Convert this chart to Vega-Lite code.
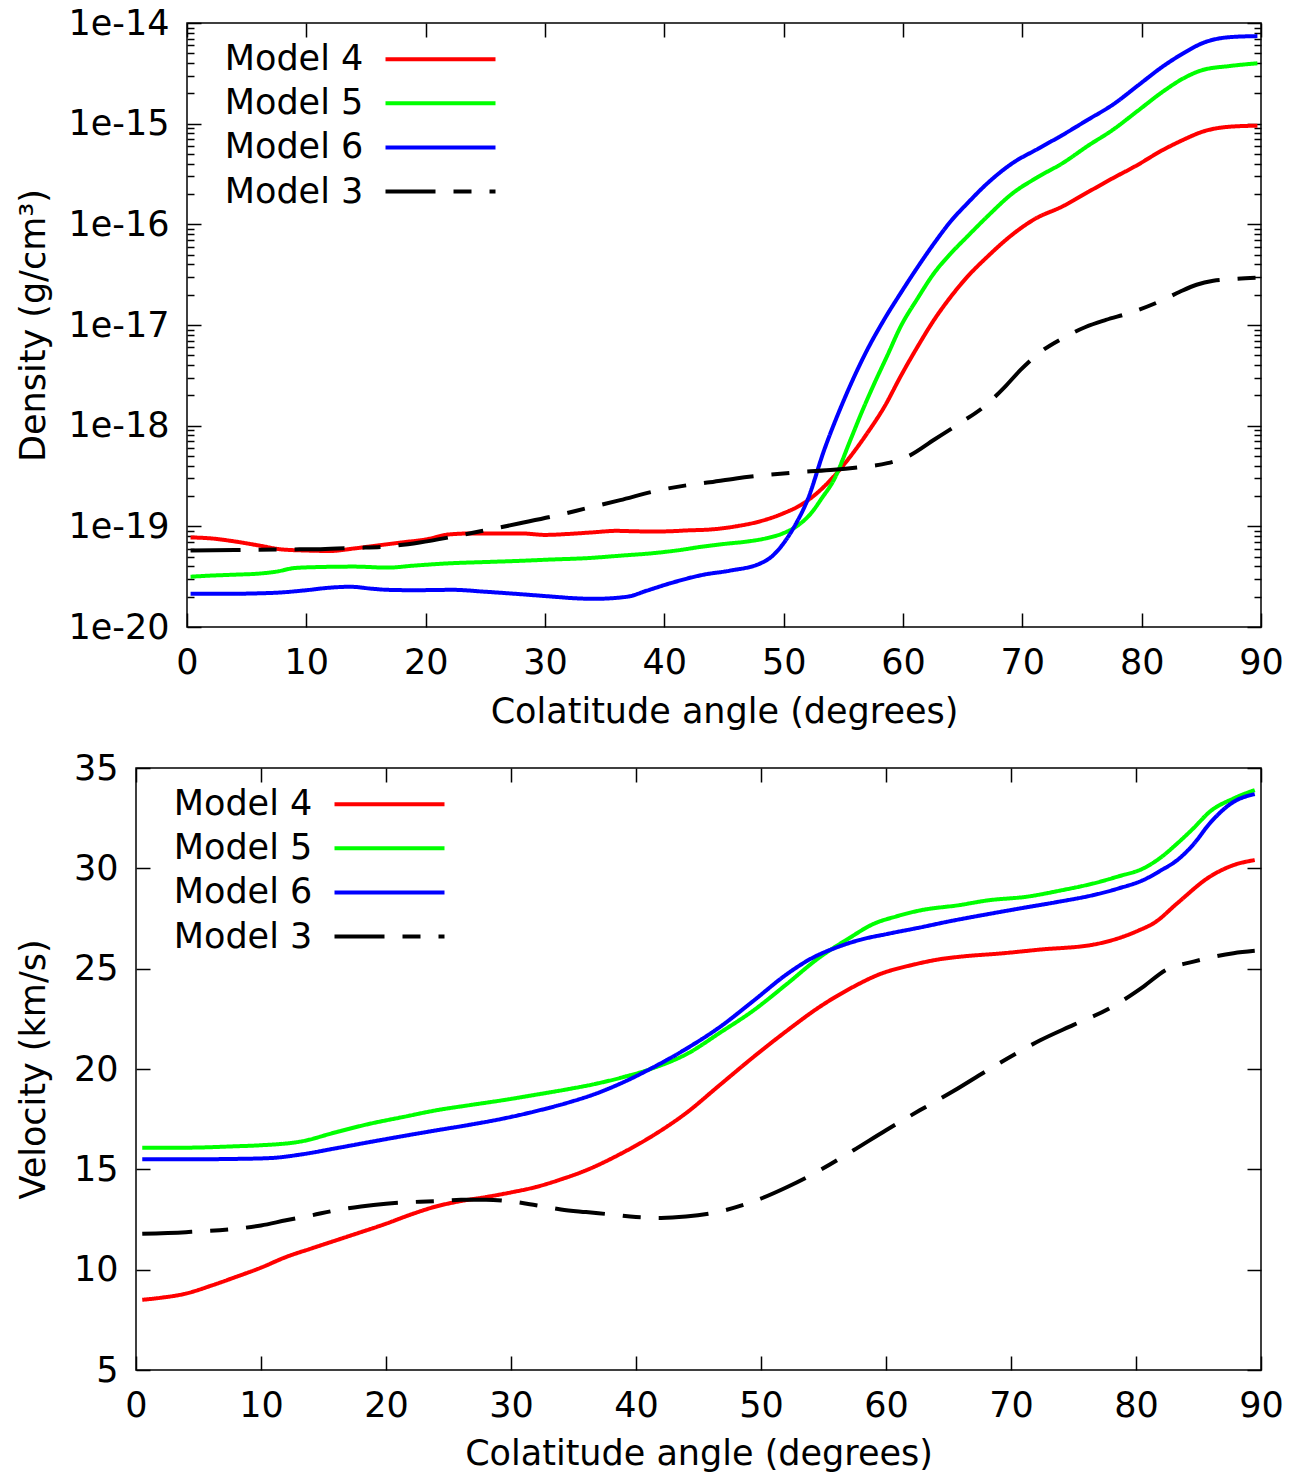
{
  "$schema": "https://vega.github.io/schema/vega-lite/v6.json",
  "padding": {"left": 14, "top": 5, "right": 5, "bottom": 5},
  "background": "white",
  "config": {
    "font": "DejaVu Sans",
    "view": {"stroke": "#000", "strokeWidth": 1.5},
    "axis": {"labelFont": "DejaVu Sans", "labelFontSize": 35, "labelColor": "#000", "titleFont": "DejaVu Sans", "titleFontSize": 35, "titleFontWeight": "normal", "titleColor": "#000", "domain": false, "grid": false, "tickColor": "#000", "tickWidth": 1.5, "labelFlush": false, "labelOverlap": false, "labelBound": false},
    "legend": {"labelFont": "DejaVu Sans", "labelFontSize": 35, "labelColor": "#000"}
  },
  "datasets": {
    "density": [
      {"model": "Model 4", "angle": 0.3, "density": 7.76e-20},
      {"model": "Model 4", "angle": 2, "density": 7.59e-20},
      {"model": "Model 4", "angle": 4, "density": 7.08e-20},
      {"model": "Model 4", "angle": 6, "density": 6.46e-20},
      {"model": "Model 4", "angle": 8, "density": 5.89e-20},
      {"model": "Model 4", "angle": 10, "density": 5.75e-20},
      {"model": "Model 4", "angle": 12, "density": 5.69e-20},
      {"model": "Model 4", "angle": 14, "density": 6.03e-20},
      {"model": "Model 4", "angle": 16, "density": 6.46e-20},
      {"model": "Model 4", "angle": 18, "density": 6.92e-20},
      {"model": "Model 4", "angle": 20, "density": 7.41e-20},
      {"model": "Model 4", "angle": 22, "density": 8.32e-20},
      {"model": "Model 4", "angle": 24, "density": 8.51e-20},
      {"model": "Model 4", "angle": 26, "density": 8.51e-20},
      {"model": "Model 4", "angle": 28, "density": 8.51e-20},
      {"model": "Model 4", "angle": 30, "density": 8.22e-20},
      {"model": "Model 4", "angle": 32, "density": 8.41e-20},
      {"model": "Model 4", "angle": 34, "density": 8.71e-20},
      {"model": "Model 4", "angle": 36, "density": 9.02e-20},
      {"model": "Model 4", "angle": 38, "density": 8.91e-20},
      {"model": "Model 4", "angle": 40, "density": 8.91e-20},
      {"model": "Model 4", "angle": 42, "density": 9.12e-20},
      {"model": "Model 4", "angle": 44, "density": 9.33e-20},
      {"model": "Model 4", "angle": 46, "density": 1.0e-19},
      {"model": "Model 4", "angle": 48, "density": 1.12e-19},
      {"model": "Model 4", "angle": 50, "density": 1.35e-19},
      {"model": "Model 4", "angle": 51.4, "density": 1.62e-19},
      {"model": "Model 4", "angle": 52.5, "density": 2.0e-19},
      {"model": "Model 4", "angle": 54.2, "density": 3.13e-19},
      {"model": "Model 4", "angle": 55.5, "density": 4.79e-19},
      {"model": "Model 4", "angle": 57, "density": 8.41e-19},
      {"model": "Model 4", "angle": 58.5, "density": 1.585e-18},
      {"model": "Model 4", "angle": 59.8, "density": 3.09e-18},
      {"model": "Model 4", "angle": 61.2, "density": 6.03e-18},
      {"model": "Model 4", "angle": 62.6, "density": 1.122e-17},
      {"model": "Model 4", "angle": 64, "density": 1.905e-17},
      {"model": "Model 4", "angle": 65.4, "density": 3.02e-17},
      {"model": "Model 4", "angle": 67, "density": 4.68e-17},
      {"model": "Model 4", "angle": 69.4, "density": 8.32e-17},
      {"model": "Model 4", "angle": 71, "density": 1.122e-16},
      {"model": "Model 4", "angle": 73.4, "density": 1.514e-16},
      {"model": "Model 4", "angle": 75.5, "density": 2.09e-16},
      {"model": "Model 4", "angle": 77.6, "density": 2.88e-16},
      {"model": "Model 4", "angle": 79.5, "density": 3.8e-16},
      {"model": "Model 4", "angle": 81.8, "density": 5.5e-16},
      {"model": "Model 4", "angle": 83.5, "density": 6.92e-16},
      {"model": "Model 4", "angle": 85.1, "density": 8.32e-16},
      {"model": "Model 4", "angle": 87.4, "density": 9.33e-16},
      {"model": "Model 4", "angle": 89.7, "density": 9.55e-16},
      {"model": "Model 5", "angle": 0.3, "density": 3.16e-20},
      {"model": "Model 5", "angle": 2, "density": 3.24e-20},
      {"model": "Model 5", "angle": 4, "density": 3.31e-20},
      {"model": "Model 5", "angle": 6, "density": 3.39e-20},
      {"model": "Model 5", "angle": 7.5, "density": 3.55e-20},
      {"model": "Model 5", "angle": 9, "density": 3.85e-20},
      {"model": "Model 5", "angle": 11, "density": 3.94e-20},
      {"model": "Model 5", "angle": 14, "density": 3.98e-20},
      {"model": "Model 5", "angle": 16.8, "density": 3.89e-20},
      {"model": "Model 5", "angle": 19, "density": 4.07e-20},
      {"model": "Model 5", "angle": 22.3, "density": 4.31e-20},
      {"model": "Model 5", "angle": 25, "density": 4.42e-20},
      {"model": "Model 5", "angle": 27.9, "density": 4.54e-20},
      {"model": "Model 5", "angle": 30.5, "density": 4.68e-20},
      {"model": "Model 5", "angle": 33.5, "density": 4.83e-20},
      {"model": "Model 5", "angle": 36.5, "density": 5.13e-20},
      {"model": "Model 5", "angle": 39.1, "density": 5.42e-20},
      {"model": "Model 5", "angle": 41, "density": 5.75e-20},
      {"model": "Model 5", "angle": 43.3, "density": 6.31e-20},
      {"model": "Model 5", "angle": 45, "density": 6.68e-20},
      {"model": "Model 5", "angle": 47, "density": 7.08e-20},
      {"model": "Model 5", "angle": 48.5, "density": 7.59e-20},
      {"model": "Model 5", "angle": 50, "density": 8.57e-20},
      {"model": "Model 5", "angle": 51.2, "density": 1.023e-19},
      {"model": "Model 5", "angle": 52.3, "density": 1.35e-19},
      {"model": "Model 5", "angle": 53.2, "density": 1.905e-19},
      {"model": "Model 5", "angle": 54.2, "density": 2.88e-19},
      {"model": "Model 5", "angle": 55.6, "density": 7.24e-19},
      {"model": "Model 5", "angle": 56.6, "density": 1.413e-18},
      {"model": "Model 5", "angle": 57.6, "density": 2.63e-18},
      {"model": "Model 5", "angle": 58.7, "density": 5.01e-18},
      {"model": "Model 5", "angle": 59.8, "density": 9.64e-18},
      {"model": "Model 5", "angle": 61.2, "density": 1.82e-17},
      {"model": "Model 5", "angle": 62.6, "density": 3.27e-17},
      {"model": "Model 5", "angle": 64, "density": 5.13e-17},
      {"model": "Model 5", "angle": 65.4, "density": 7.59e-17},
      {"model": "Model 5", "angle": 67, "density": 1.175e-16},
      {"model": "Model 5", "angle": 69.2, "density": 2.04e-16},
      {"model": "Model 5", "angle": 71.3, "density": 2.95e-16},
      {"model": "Model 5", "angle": 73.4, "density": 4.07e-16},
      {"model": "Model 5", "angle": 75.5, "density": 6.03e-16},
      {"model": "Model 5", "angle": 77.6, "density": 8.71e-16},
      {"model": "Model 5", "angle": 79.7, "density": 1.349e-15},
      {"model": "Model 5", "angle": 81.8, "density": 2.09e-15},
      {"model": "Model 5", "angle": 83.5, "density": 2.82e-15},
      {"model": "Model 5", "angle": 85.1, "density": 3.41e-15},
      {"model": "Model 5", "angle": 87.4, "density": 3.74e-15},
      {"model": "Model 5", "angle": 89.7, "density": 3.98e-15},
      {"model": "Model 6", "angle": 0.3, "density": 2.14e-20},
      {"model": "Model 6", "angle": 2, "density": 2.14e-20},
      {"model": "Model 6", "angle": 4, "density": 2.14e-20},
      {"model": "Model 6", "angle": 6, "density": 2.16e-20},
      {"model": "Model 6", "angle": 7.5, "density": 2.19e-20},
      {"model": "Model 6", "angle": 10, "density": 2.32e-20},
      {"model": "Model 6", "angle": 12, "density": 2.46e-20},
      {"model": "Model 6", "angle": 13.7, "density": 2.51e-20},
      {"model": "Model 6", "angle": 15.5, "density": 2.4e-20},
      {"model": "Model 6", "angle": 16.8, "density": 2.34e-20},
      {"model": "Model 6", "angle": 19, "density": 2.32e-20},
      {"model": "Model 6", "angle": 22.3, "density": 2.34e-20},
      {"model": "Model 6", "angle": 25, "density": 2.24e-20},
      {"model": "Model 6", "angle": 27.9, "density": 2.12e-20},
      {"model": "Model 6", "angle": 30.7, "density": 2.0e-20},
      {"model": "Model 6", "angle": 32.5, "density": 1.93e-20},
      {"model": "Model 6", "angle": 34.1, "density": 1.905e-20},
      {"model": "Model 6", "angle": 36.9, "density": 2.0e-20},
      {"model": "Model 6", "angle": 38.5, "density": 2.29e-20},
      {"model": "Model 6", "angle": 40.5, "density": 2.72e-20},
      {"model": "Model 6", "angle": 43.3, "density": 3.31e-20},
      {"model": "Model 6", "angle": 45.5, "density": 3.63e-20},
      {"model": "Model 6", "angle": 48.1, "density": 4.31e-20},
      {"model": "Model 6", "angle": 49, "density": 5.01e-20},
      {"model": "Model 6", "angle": 50, "density": 6.81e-20},
      {"model": "Model 6", "angle": 51, "density": 1.047e-19},
      {"model": "Model 6", "angle": 52, "density": 1.83e-19},
      {"model": "Model 6", "angle": 53.4, "density": 5.75e-19},
      {"model": "Model 6", "angle": 55.05, "density": 1.8e-18},
      {"model": "Model 6", "angle": 57, "density": 5.66e-18},
      {"model": "Model 6", "angle": 58.4, "density": 1.122e-17},
      {"model": "Model 6", "angle": 59.8, "density": 2.07e-17},
      {"model": "Model 6", "angle": 61.2, "density": 3.72e-17},
      {"model": "Model 6", "angle": 62.6, "density": 6.46e-17},
      {"model": "Model 6", "angle": 64, "density": 1.072e-16},
      {"model": "Model 6", "angle": 65.4, "density": 1.62e-16},
      {"model": "Model 6", "angle": 67, "density": 2.51e-16},
      {"model": "Model 6", "angle": 69.2, "density": 4.07e-16},
      {"model": "Model 6", "angle": 71.3, "density": 5.62e-16},
      {"model": "Model 6", "angle": 73.4, "density": 7.76e-16},
      {"model": "Model 6", "angle": 75.5, "density": 1.096e-15},
      {"model": "Model 6", "angle": 77.6, "density": 1.549e-15},
      {"model": "Model 6", "angle": 79.7, "density": 2.4e-15},
      {"model": "Model 6", "angle": 81.8, "density": 3.72e-15},
      {"model": "Model 6", "angle": 83.5, "density": 5.01e-15},
      {"model": "Model 6", "angle": 85.1, "density": 6.31e-15},
      {"model": "Model 6", "angle": 87.4, "density": 7.24e-15},
      {"model": "Model 6", "angle": 89.7, "density": 7.41e-15},
      {"model": "Model 3", "angle": 0.3, "density": 5.75e-20},
      {"model": "Model 3", "angle": 4, "density": 5.82e-20},
      {"model": "Model 3", "angle": 8, "density": 5.89e-20},
      {"model": "Model 3", "angle": 11.2, "density": 5.93e-20},
      {"model": "Model 3", "angle": 14, "density": 6.1e-20},
      {"model": "Model 3", "angle": 16.8, "density": 6.31e-20},
      {"model": "Model 3", "angle": 19.5, "density": 6.92e-20},
      {"model": "Model 3", "angle": 22.1, "density": 7.82e-20},
      {"model": "Model 3", "angle": 25, "density": 9.12e-20},
      {"model": "Model 3", "angle": 27.9, "density": 1.072e-19},
      {"model": "Model 3", "angle": 30.7, "density": 1.259e-19},
      {"model": "Model 3", "angle": 33.5, "density": 1.514e-19},
      {"model": "Model 3", "angle": 36.3, "density": 1.82e-19},
      {"model": "Model 3", "angle": 39.1, "density": 2.22e-19},
      {"model": "Model 3", "angle": 42, "density": 2.57e-19},
      {"model": "Model 3", "angle": 43.6, "density": 2.72e-19},
      {"model": "Model 3", "angle": 46, "density": 2.99e-19},
      {"model": "Model 3", "angle": 48.6, "density": 3.24e-19},
      {"model": "Model 3", "angle": 51.5, "density": 3.47e-19},
      {"model": "Model 3", "angle": 54.2, "density": 3.64e-19},
      {"model": "Model 3", "angle": 56.5, "density": 3.89e-19},
      {"model": "Model 3", "angle": 58.7, "density": 4.24e-19},
      {"model": "Model 3", "angle": 60.5, "density": 5.01e-19},
      {"model": "Model 3", "angle": 62.6, "density": 7.24e-19},
      {"model": "Model 3", "angle": 64.7, "density": 1.047e-18},
      {"model": "Model 3", "angle": 66.8, "density": 1.549e-18},
      {"model": "Model 3", "angle": 68.5, "density": 2.4e-18},
      {"model": "Model 3", "angle": 69.85, "density": 3.58e-18},
      {"model": "Model 3", "angle": 71.5, "density": 5.37e-18},
      {"model": "Model 3", "angle": 73.4, "density": 7.41e-18},
      {"model": "Model 3", "angle": 75.3, "density": 9.55e-18},
      {"model": "Model 3", "angle": 77, "density": 1.122e-17},
      {"model": "Model 3", "angle": 79, "density": 1.318e-17},
      {"model": "Model 3", "angle": 81.8, "density": 1.778e-17},
      {"model": "Model 3", "angle": 83.2, "density": 2.14e-17},
      {"model": "Model 3", "angle": 84.6, "density": 2.51e-17},
      {"model": "Model 3", "angle": 86, "density": 2.75e-17},
      {"model": "Model 3", "angle": 87.4, "density": 2.85e-17},
      {"model": "Model 3", "angle": 89.7, "density": 2.95e-17}
    ],
    "velocity": [
      {"model": "Model 4", "angle": 0.5, "velocity": 8.5},
      {"model": "Model 4", "angle": 2, "velocity": 8.6},
      {"model": "Model 4", "angle": 4, "velocity": 8.81},
      {"model": "Model 4", "angle": 6, "velocity": 9.2},
      {"model": "Model 4", "angle": 8, "velocity": 9.64},
      {"model": "Model 4", "angle": 10, "velocity": 10.1},
      {"model": "Model 4", "angle": 12, "velocity": 10.63},
      {"model": "Model 4", "angle": 14, "velocity": 11.05},
      {"model": "Model 4", "angle": 16, "velocity": 11.46},
      {"model": "Model 4", "angle": 18, "velocity": 11.87},
      {"model": "Model 4", "angle": 20, "velocity": 12.29},
      {"model": "Model 4", "angle": 22, "velocity": 12.75},
      {"model": "Model 4", "angle": 24, "velocity": 13.15},
      {"model": "Model 4", "angle": 26, "velocity": 13.42},
      {"model": "Model 4", "angle": 28, "velocity": 13.62},
      {"model": "Model 4", "angle": 30, "velocity": 13.85},
      {"model": "Model 4", "angle": 32, "velocity": 14.12},
      {"model": "Model 4", "angle": 34, "velocity": 14.5},
      {"model": "Model 4", "angle": 36, "velocity": 14.95},
      {"model": "Model 4", "angle": 38.7, "velocity": 15.75},
      {"model": "Model 4", "angle": 41.4, "velocity": 16.7},
      {"model": "Model 4", "angle": 44, "velocity": 17.8},
      {"model": "Model 4", "angle": 46.7, "velocity": 19.2},
      {"model": "Model 4", "angle": 49.4, "velocity": 20.6},
      {"model": "Model 4", "angle": 52.1, "velocity": 21.92},
      {"model": "Model 4", "angle": 54.7, "velocity": 23.1},
      {"model": "Model 4", "angle": 57.4, "velocity": 24.1},
      {"model": "Model 4", "angle": 59.4, "velocity": 24.7},
      {"model": "Model 4", "angle": 62.2, "velocity": 25.2},
      {"model": "Model 4", "angle": 64.4, "velocity": 25.48},
      {"model": "Model 4", "angle": 66, "velocity": 25.6},
      {"model": "Model 4", "angle": 69.4, "velocity": 25.77},
      {"model": "Model 4", "angle": 72.3, "velocity": 25.95},
      {"model": "Model 4", "angle": 76.6, "velocity": 26.2},
      {"model": "Model 4", "angle": 80.2, "velocity": 26.9},
      {"model": "Model 4", "angle": 81.5, "velocity": 27.3},
      {"model": "Model 4", "angle": 83.3, "velocity": 28.26},
      {"model": "Model 4", "angle": 85.9, "velocity": 29.58},
      {"model": "Model 4", "angle": 87.8, "velocity": 30.16},
      {"model": "Model 4", "angle": 89.5, "velocity": 30.41},
      {"model": "Model 5", "angle": 0.5, "velocity": 16.08},
      {"model": "Model 5", "angle": 4, "velocity": 16.08},
      {"model": "Model 5", "angle": 8, "velocity": 16.15},
      {"model": "Model 5", "angle": 10, "velocity": 16.2},
      {"model": "Model 5", "angle": 13.3, "velocity": 16.4},
      {"model": "Model 5", "angle": 16, "velocity": 16.85},
      {"model": "Model 5", "angle": 18.7, "velocity": 17.27},
      {"model": "Model 5", "angle": 21.3, "velocity": 17.6},
      {"model": "Model 5", "angle": 24, "velocity": 17.94},
      {"model": "Model 5", "angle": 26.7, "velocity": 18.2},
      {"model": "Model 5", "angle": 29.3, "velocity": 18.44},
      {"model": "Model 5", "angle": 32, "velocity": 18.72},
      {"model": "Model 5", "angle": 34.7, "velocity": 19.01},
      {"model": "Model 5", "angle": 36.7, "velocity": 19.25},
      {"model": "Model 5", "angle": 38.7, "velocity": 19.55},
      {"model": "Model 5", "angle": 41.4, "velocity": 20.05},
      {"model": "Model 5", "angle": 44.1, "velocity": 20.76},
      {"model": "Model 5", "angle": 46.7, "velocity": 21.8},
      {"model": "Model 5", "angle": 49.4, "velocity": 22.92},
      {"model": "Model 5", "angle": 52, "velocity": 24.2},
      {"model": "Model 5", "angle": 54.7, "velocity": 25.57},
      {"model": "Model 5", "angle": 57, "velocity": 26.5},
      {"model": "Model 5", "angle": 59, "velocity": 27.23},
      {"model": "Model 5", "angle": 60.8, "velocity": 27.6},
      {"model": "Model 5", "angle": 62.7, "velocity": 27.9},
      {"model": "Model 5", "angle": 65.9, "velocity": 28.17},
      {"model": "Model 5", "angle": 68.1, "velocity": 28.4},
      {"model": "Model 5", "angle": 71.3, "velocity": 28.59},
      {"model": "Model 5", "angle": 74, "velocity": 28.9},
      {"model": "Model 5", "angle": 76.6, "velocity": 29.25},
      {"model": "Model 5", "angle": 78.6, "velocity": 29.6},
      {"model": "Model 5", "angle": 80.6, "velocity": 30.0},
      {"model": "Model 5", "angle": 82, "velocity": 30.55},
      {"model": "Model 5", "angle": 83.3, "velocity": 31.24},
      {"model": "Model 5", "angle": 84.6, "velocity": 32.0},
      {"model": "Model 5", "angle": 85.9, "velocity": 32.82},
      {"model": "Model 5", "angle": 87.8, "velocity": 33.48},
      {"model": "Model 5", "angle": 89.5, "velocity": 33.9},
      {"model": "Model 6", "angle": 0.5, "velocity": 15.5},
      {"model": "Model 6", "angle": 4, "velocity": 15.5},
      {"model": "Model 6", "angle": 8, "velocity": 15.52},
      {"model": "Model 6", "angle": 10.7, "velocity": 15.56},
      {"model": "Model 6", "angle": 13.3, "velocity": 15.75},
      {"model": "Model 6", "angle": 16, "velocity": 16.05},
      {"model": "Model 6", "angle": 18.7, "velocity": 16.36},
      {"model": "Model 6", "angle": 21.3, "velocity": 16.65},
      {"model": "Model 6", "angle": 24, "velocity": 16.94},
      {"model": "Model 6", "angle": 26.7, "velocity": 17.22},
      {"model": "Model 6", "angle": 29.3, "velocity": 17.52},
      {"model": "Model 6", "angle": 32, "velocity": 17.9},
      {"model": "Model 6", "angle": 34.7, "velocity": 18.35},
      {"model": "Model 6", "angle": 36.7, "velocity": 18.75},
      {"model": "Model 6", "angle": 38.7, "velocity": 19.26},
      {"model": "Model 6", "angle": 41.4, "velocity": 20.09},
      {"model": "Model 6", "angle": 44, "velocity": 21.0},
      {"model": "Model 6", "angle": 46.7, "velocity": 22.09},
      {"model": "Model 6", "angle": 49.4, "velocity": 23.4},
      {"model": "Model 6", "angle": 52.1, "velocity": 24.74},
      {"model": "Model 6", "angle": 54, "velocity": 25.5},
      {"model": "Model 6", "angle": 56.1, "velocity": 26.07},
      {"model": "Model 6", "angle": 58, "velocity": 26.45},
      {"model": "Model 6", "angle": 60.1, "velocity": 26.73},
      {"model": "Model 6", "angle": 62.7, "velocity": 27.05},
      {"model": "Model 6", "angle": 65.4, "velocity": 27.4},
      {"model": "Model 6", "angle": 68, "velocity": 27.7},
      {"model": "Model 6", "angle": 70.7, "velocity": 28.0},
      {"model": "Model 6", "angle": 73.5, "velocity": 28.3},
      {"model": "Model 6", "angle": 76.6, "velocity": 28.67},
      {"model": "Model 6", "angle": 78.6, "velocity": 29.0},
      {"model": "Model 6", "angle": 80.6, "velocity": 29.42},
      {"model": "Model 6", "angle": 82, "velocity": 29.9},
      {"model": "Model 6", "angle": 83.3, "velocity": 30.41},
      {"model": "Model 6", "angle": 84.6, "velocity": 31.2},
      {"model": "Model 6", "angle": 85.9, "velocity": 32.24},
      {"model": "Model 6", "angle": 87.8, "velocity": 33.31},
      {"model": "Model 6", "angle": 89.5, "velocity": 33.7},
      {"model": "Model 3", "angle": 0.5, "velocity": 11.79},
      {"model": "Model 3", "angle": 4, "velocity": 11.87},
      {"model": "Model 3", "angle": 8, "velocity": 12.04},
      {"model": "Model 3", "angle": 10, "velocity": 12.2},
      {"model": "Model 3", "angle": 12, "velocity": 12.46},
      {"model": "Model 3", "angle": 14, "velocity": 12.7},
      {"model": "Model 3", "angle": 16, "velocity": 12.96},
      {"model": "Model 3", "angle": 18, "velocity": 13.15},
      {"model": "Model 3", "angle": 20, "velocity": 13.29},
      {"model": "Model 3", "angle": 24, "velocity": 13.42},
      {"model": "Model 3", "angle": 26, "velocity": 13.48},
      {"model": "Model 3", "angle": 28, "velocity": 13.49},
      {"model": "Model 3", "angle": 30, "velocity": 13.4},
      {"model": "Model 3", "angle": 32, "velocity": 13.21},
      {"model": "Model 3", "angle": 34, "velocity": 13.0},
      {"model": "Model 3", "angle": 36, "velocity": 12.87},
      {"model": "Model 3", "angle": 38, "velocity": 12.75},
      {"model": "Model 3", "angle": 40, "velocity": 12.62},
      {"model": "Model 3", "angle": 42, "velocity": 12.58},
      {"model": "Model 3", "angle": 44, "velocity": 12.65},
      {"model": "Model 3", "angle": 46.7, "velocity": 12.9},
      {"model": "Model 3", "angle": 49.4, "velocity": 13.4},
      {"model": "Model 3", "angle": 52.1, "velocity": 14.12},
      {"model": "Model 3", "angle": 54.7, "velocity": 14.95},
      {"model": "Model 3", "angle": 57.4, "velocity": 15.95},
      {"model": "Model 3", "angle": 60, "velocity": 16.95},
      {"model": "Model 3", "angle": 62.7, "velocity": 17.94},
      {"model": "Model 3", "angle": 65.4, "velocity": 18.9},
      {"model": "Model 3", "angle": 68.1, "velocity": 19.93},
      {"model": "Model 3", "angle": 70.2, "velocity": 20.7},
      {"model": "Model 3", "angle": 72.3, "velocity": 21.42},
      {"model": "Model 3", "angle": 75, "velocity": 22.2},
      {"model": "Model 3", "angle": 77.9, "velocity": 23.03},
      {"model": "Model 3", "angle": 80.6, "velocity": 24.11},
      {"model": "Model 3", "angle": 82.4, "velocity": 24.94},
      {"model": "Model 3", "angle": 84.6, "velocity": 25.35},
      {"model": "Model 3", "angle": 87.8, "velocity": 25.77},
      {"model": "Model 3", "angle": 89.5, "velocity": 25.89}
    ]
  },
  "vconcat": [
    {
      "hconcat": [
        {"width": 1, "height": 1, "data": {"values": []}, "mark": "point", "view": {"stroke": null}},
        {
          "width": 1074,
          "height": 604,
          "data": {"name": "density"},
          "layer": [
            {
              "mark": {"type": "line", "strokeWidth": 4, "interpolate": "monotone"},
              "encoding": {
                "x": {"field": "angle", "type": "quantitative", "scale": {"domain": [0, 90], "nice": false, "zero": false},
                  "axis": {"orient": "bottom", "values": [0, 10, 20, 30, 40, 50, 60, 70, 80, 90], "tickSize": -14, "labelPadding": 32, "title": "Colatitude angle (degrees)", "titlePadding": 14}},
                "y": {"field": "density", "type": "quantitative", "scale": {"type": "log", "domain": [1e-20, 1e-14], "nice": false},
                  "axis": {"orient": "left", "values": [1e-20, 2e-20, 3e-20, 4e-20, 5e-20, 6e-20, 7e-20, 8e-20, 9e-20, 1e-19, 2e-19, 3e-19, 4e-19, 5e-19, 6e-19, 7e-19, 8e-19, 9e-19, 1e-18, 2e-18, 3e-18, 4e-18, 5e-18, 6e-18, 7e-18, 8e-18, 9e-18, 1e-17, 2e-17, 3e-17, 4e-17, 5e-17, 6e-17, 7e-17, 8e-17, 9e-17, 1e-16, 2e-16, 3e-16, 4e-16, 5e-16, 6e-16, 7e-16, 8e-16, 9e-16, 1e-15, 2e-15, 3e-15, 4e-15, 5e-15, 6e-15, 7e-15, 8e-15, 9e-15, 1e-14],
                    "labelExpr": "abs(log(datum.value)/LN10 - round(log(datum.value)/LN10)) < 0.01 ? '1e' + round(log(datum.value)/LN10) : ''",
                    "tickSize": {"condition": {"test": "abs(log(datum.value)/LN10 - round(log(datum.value)/LN10)) < 0.01", "value": -14}, "value": -7},
                    "labelPadding": 32, "title": "Density (g/cm³)", "titlePadding": 17}},
                "color": {"field": "model", "type": "nominal", "scale": {"domain": ["Model 4", "Model 5", "Model 6", "Model 3"], "range": ["#ff0000", "#00ff00", "#0000ff", "#000000"]},
                  "legend": {"title": null, "orient": "none", "legendX": 236, "legendY": 18.75, "symbolType": "M-4,0H4", "symbolSize": 756.25, "symbolStrokeWidth": 4, "labelAlign": "right", "labelOffset": -94.75, "rowPadding": 8.1, "padding": 0}},
                "strokeDash": {"field": "model", "type": "nominal", "scale": {"domain": ["Model 4", "Model 5", "Model 6", "Model 3"], "range": [[1, 0], [1, 0], [1, 0], [50, 18, 18, 18]]},
                  "legend": {"title": null, "orient": "none", "legendX": 236, "legendY": 18.75, "symbolType": "M-4,0H4", "symbolSize": 756.25, "symbolStrokeWidth": 4, "labelAlign": "right", "labelOffset": -94.75, "rowPadding": 8.1, "padding": 0}}
              }
            },
            {
              "mark": {"type": "line", "opacity": 0, "interpolate": "monotone"},
              "encoding": {
                "x": {"field": "angle", "type": "quantitative", "axis": {"orient": "top", "values": [0, 10, 20, 30, 40, 50, 60, 70, 80, 90], "tickSize": -14, "labels": false, "title": null}},
                "y": {"field": "density", "type": "quantitative",
                  "axis": {"orient": "right", "values": [1e-20, 2e-20, 3e-20, 4e-20, 5e-20, 6e-20, 7e-20, 8e-20, 9e-20, 1e-19, 2e-19, 3e-19, 4e-19, 5e-19, 6e-19, 7e-19, 8e-19, 9e-19, 1e-18, 2e-18, 3e-18, 4e-18, 5e-18, 6e-18, 7e-18, 8e-18, 9e-18, 1e-17, 2e-17, 3e-17, 4e-17, 5e-17, 6e-17, 7e-17, 8e-17, 9e-17, 1e-16, 2e-16, 3e-16, 4e-16, 5e-16, 6e-16, 7e-16, 8e-16, 9e-16, 1e-15, 2e-15, 3e-15, 4e-15, 5e-15, 6e-15, 7e-15, 8e-15, 9e-15, 1e-14],
                    "labels": false, "title": null,
                    "tickSize": {"condition": {"test": "abs(log(datum.value)/LN10 - round(log(datum.value)/LN10)) < 0.01", "value": -14}, "value": -7}}},
                "detail": {"field": "model"}
              }
            }
          ],
          "resolve": {"axis": {"x": "independent", "y": "independent"}}
        }
      ],
      "spacing": 0,
      "resolve": {
        "scale": {"x": "independent", "y": "independent", "color": "independent", "strokeDash": "independent"},
        "legend": {"color": "independent", "strokeDash": "independent"}
      }
    },
    {
      "hconcat": [
        {"width": 1, "height": 1, "data": {"values": []}, "mark": "point", "view": {"stroke": null}},
        {
          "width": 1125,
          "height": 602,
          "data": {"name": "velocity"},
          "layer": [
            {
              "mark": {"type": "line", "strokeWidth": 4, "interpolate": "monotone"},
              "encoding": {
                "x": {"field": "angle", "type": "quantitative", "scale": {"domain": [0, 90], "nice": false, "zero": false},
                  "axis": {"orient": "bottom", "values": [0, 10, 20, 30, 40, 50, 60, 70, 80, 90], "tickSize": -14, "labelPadding": 32, "title": "Colatitude angle (degrees)", "titlePadding": 13}},
                "y": {"field": "velocity", "type": "quantitative", "scale": {"domain": [5, 35], "nice": false, "zero": false},
                  "axis": {"orient": "left", "values": [5, 10, 15, 20, 25, 30, 35], "tickSize": -14, "labelPadding": 32, "title": "Velocity (km/s)", "titlePadding": 22}},
                "color": {"field": "model", "type": "nominal", "scale": {"domain": ["Model 4", "Model 5", "Model 6", "Model 3"], "range": ["#ff0000", "#00ff00", "#0000ff", "#000000"]},
                  "legend": {"title": null, "orient": "none", "legendX": 236, "legendY": 18.75, "symbolType": "M-4,0H4", "symbolSize": 756.25, "symbolStrokeWidth": 4, "labelAlign": "right", "labelOffset": -94.75, "rowPadding": 8.1, "padding": 0}},
                "strokeDash": {"field": "model", "type": "nominal", "scale": {"domain": ["Model 4", "Model 5", "Model 6", "Model 3"], "range": [[1, 0], [1, 0], [1, 0], [50, 18, 18, 18]]},
                  "legend": {"title": null, "orient": "none", "legendX": 236, "legendY": 18.75, "symbolType": "M-4,0H4", "symbolSize": 756.25, "symbolStrokeWidth": 4, "labelAlign": "right", "labelOffset": -94.75, "rowPadding": 8.1, "padding": 0}}
              }
            },
            {
              "mark": {"type": "line", "opacity": 0, "interpolate": "monotone"},
              "encoding": {
                "x": {"field": "angle", "type": "quantitative", "axis": {"orient": "top", "values": [0, 10, 20, 30, 40, 50, 60, 70, 80, 90], "tickSize": -14, "labels": false, "title": null}},
                "y": {"field": "velocity", "type": "quantitative", "axis": {"orient": "right", "values": [5, 10, 15, 20, 25, 30, 35], "tickSize": -14, "labels": false, "title": null}},
                "detail": {"field": "model"}
              }
            }
          ],
          "resolve": {"axis": {"x": "independent", "y": "independent"}}
        }
      ],
      "spacing": 0,
      "resolve": {
        "scale": {"x": "independent", "y": "independent", "color": "independent", "strokeDash": "independent"},
        "legend": {"color": "independent", "strokeDash": "independent"}
      }
    }
  ],
  "spacing": 20,
  "resolve": {
    "scale": {"x": "independent", "y": "independent", "color": "independent", "strokeDash": "independent"},
    "legend": {"color": "independent", "strokeDash": "independent"}
  }
}
